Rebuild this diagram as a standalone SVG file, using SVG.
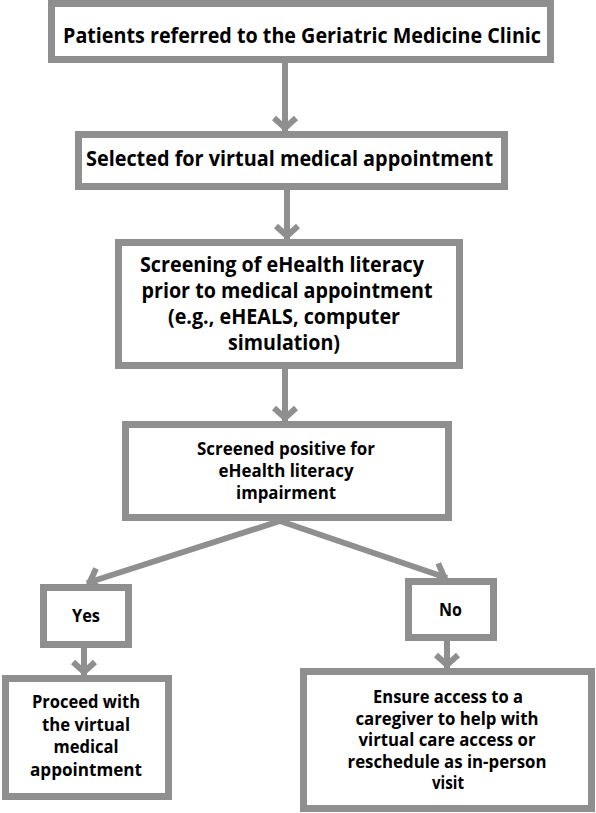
<svg xmlns="http://www.w3.org/2000/svg" width="596" height="813" viewBox="0 0 596 813">
<style>
.box{fill:#fff;stroke:#8f8f8f;stroke-width:7}
.t{font-family:"Open Sans","Noto Sans","DejaVu Sans",sans-serif;font-weight:bold;fill:#000;text-anchor:middle}
.c{fill:none;stroke:#8f8f8f;stroke-width:6}
</style>
<defs>
<marker id="ah" markerUnits="userSpaceOnUse" viewBox="-16 -16 20 32" refX="0" refY="0" markerWidth="20" markerHeight="32" orient="auto" overflow="visible">
<path d="M-13,-11 L-3,0 L-13,11" fill="none" stroke="#8f8f8f" stroke-width="6"/>
</marker>
</defs>
<rect width="596" height="813" fill="#fff"/>
<g id="connectors">
<line class="c" x1="285" y1="63" x2="285" y2="131" marker-end="url(#ah)"/>
<line class="c" x1="287" y1="190" x2="287" y2="239" marker-end="url(#ah)"/>
<line class="c" x1="285" y1="369" x2="285" y2="421" marker-end="url(#ah)"/>
<line class="c" x1="280" y1="521" x2="87" y2="583" marker-end="url(#ah)"/>
<line class="c" x1="280" y1="521" x2="447" y2="578" marker-end="url(#ah)"/>
<line class="c" x1="84" y1="647" x2="84" y2="675" marker-end="url(#ah)"/>
<line class="c" x1="447" y1="641" x2="447" y2="668" marker-end="url(#ah)"/>
</g>
<g id="n1">
<rect class="box" x="51.5" y="3.5" width="499" height="56"/>
<text class="t" x="302" y="43" font-size="21.5" textLength="478" lengthAdjust="spacingAndGlyphs">Patients referred to the Geriatric Medicine Clinic</text>
</g>
<g id="n2">
<rect class="box" x="78.5" y="134.5" width="426" height="52"/>
<text class="t" x="289.5" y="166" font-size="21.5" textLength="407" lengthAdjust="spacingAndGlyphs">Selected for virtual medical appointment</text>
</g>
<g id="n3">
<rect class="box" x="118.5" y="242.5" width="341" height="123"/>
<text class="t" x="282" y="272" font-size="21" textLength="284" lengthAdjust="spacingAndGlyphs">Screening of eHealth literacy</text>
<text class="t" x="287" y="298" font-size="21" textLength="291" lengthAdjust="spacingAndGlyphs">prior to medical appointment</text>
<text class="t" x="284" y="324" font-size="21" textLength="232" lengthAdjust="spacingAndGlyphs">(e.g., eHEALS, computer</text>
<text class="t" x="284" y="350" font-size="21" textLength="112" lengthAdjust="spacingAndGlyphs">simulation)</text>
</g>
<g id="n4">
<rect class="box" x="125.5" y="424.5" width="323" height="93"/>
<text class="t" x="286" y="455" font-size="17" textLength="178" lengthAdjust="spacingAndGlyphs">Screened positive for</text>
<text class="t" x="286" y="477" font-size="17" textLength="135" lengthAdjust="spacingAndGlyphs">eHealth literacy</text>
<text class="t" x="286" y="499" font-size="17" textLength="100" lengthAdjust="spacingAndGlyphs">impairment</text>
</g>
<g id="yes">
<rect class="box" x="43.5" y="587.5" width="85" height="57"/>
<text class="t" x="86" y="622" font-size="17" textLength="28" lengthAdjust="spacingAndGlyphs">Yes</text>
</g>
<g id="no">
<rect class="box" x="408.5" y="581.5" width="85" height="56"/>
<text class="t" x="450.5" y="616" font-size="17" textLength="23" lengthAdjust="spacingAndGlyphs">No</text>
</g>
<g id="n5">
<rect class="box" x="5.5" y="678.5" width="163" height="118"/>
<text class="t" x="86" y="708" font-size="17" textLength="108" lengthAdjust="spacingAndGlyphs">Proceed with</text>
<text class="t" x="86" y="730.5" font-size="17" textLength="88" lengthAdjust="spacingAndGlyphs">the virtual</text>
<text class="t" x="86" y="753" font-size="17" textLength="65" lengthAdjust="spacingAndGlyphs">medical</text>
<text class="t" x="86" y="775.5" font-size="17" textLength="112" lengthAdjust="spacingAndGlyphs">appointment</text>
</g>
<g id="n6">
<rect class="box" x="303.5" y="671.5" width="288" height="137"/>
<text class="t" x="448" y="703" font-size="17" textLength="150" lengthAdjust="spacingAndGlyphs">Ensure access to a</text>
<text class="t" x="447" y="724.5" font-size="17" textLength="183" lengthAdjust="spacingAndGlyphs">caregiver to help with</text>
<text class="t" x="447" y="746" font-size="17" textLength="177" lengthAdjust="spacingAndGlyphs">virtual care access or</text>
<text class="t" x="447" y="767.5" font-size="17" textLength="199" lengthAdjust="spacingAndGlyphs">reschedule as in-person</text>
<text class="t" x="448" y="789" font-size="17" textLength="32" lengthAdjust="spacingAndGlyphs">visit</text>
</g>
</svg>
